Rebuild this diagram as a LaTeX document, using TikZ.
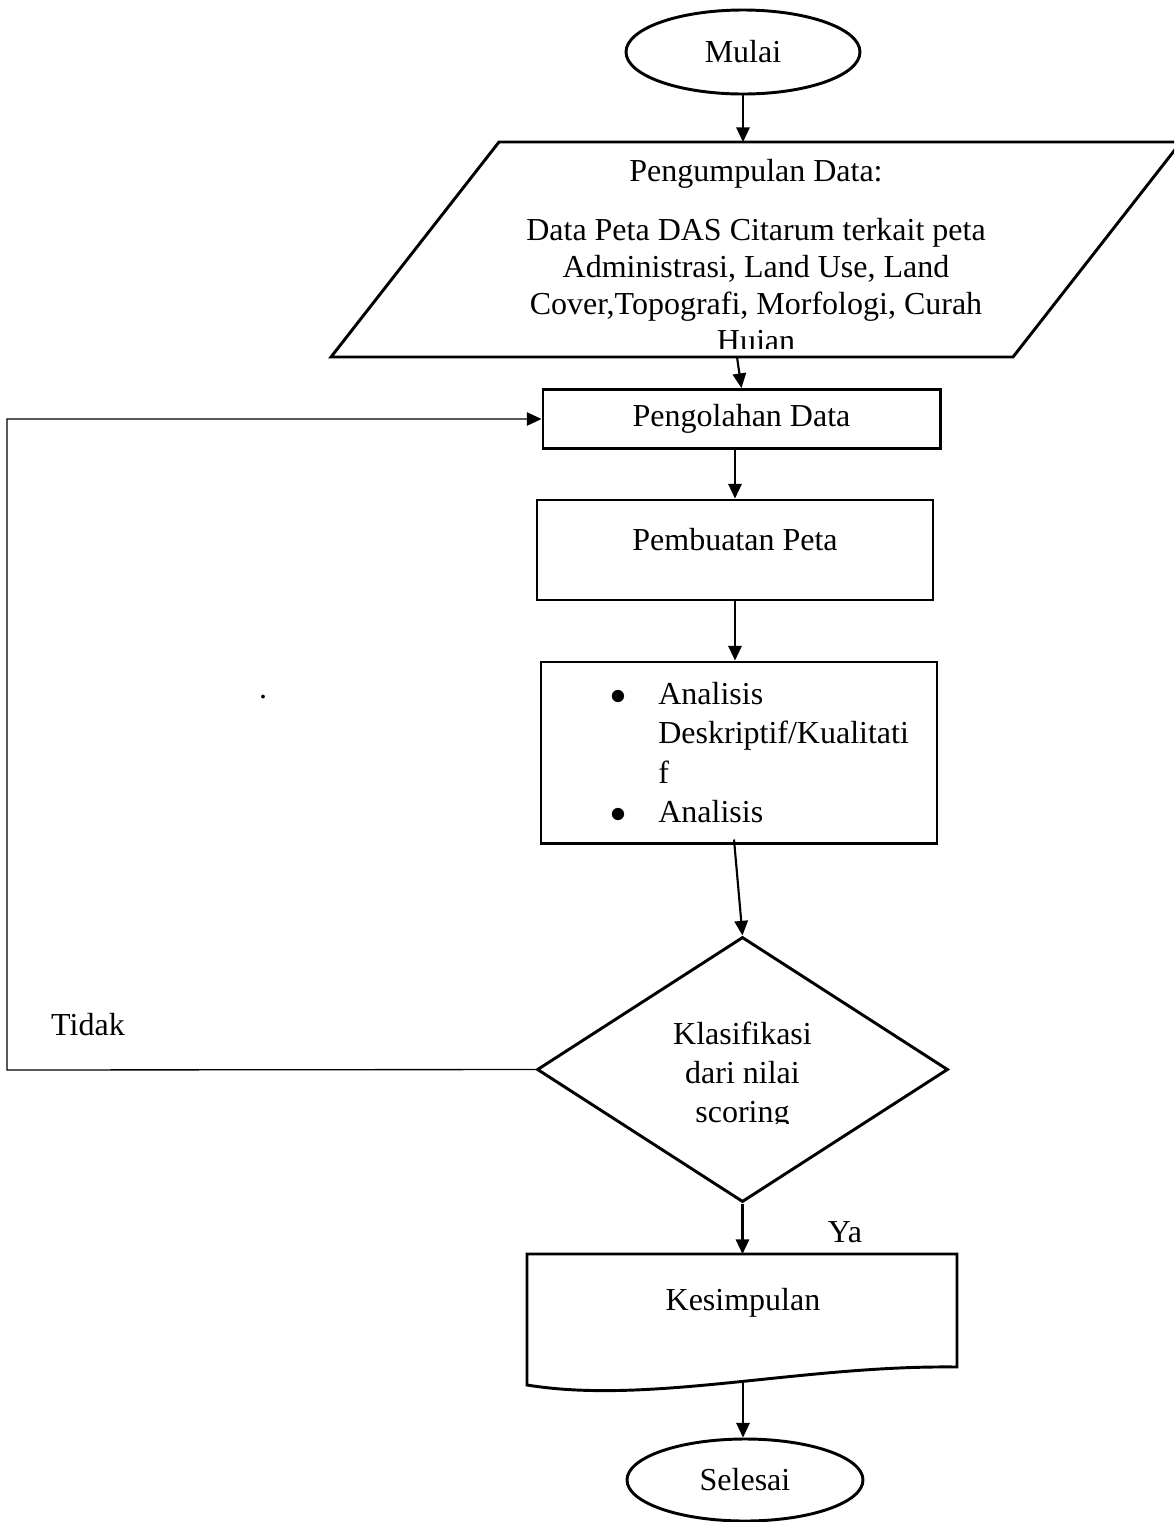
\documentclass[tikz,border=0pt]{standalone}
\usepackage{fontspec}
\setmainfont{Liberation Serif}
\usetikzlibrary{shapes.geometric,arrows.meta}

\begin{document}
\begin{tikzpicture}[x=0.375pt,y=-0.375pt,font=\fontsize{12}{14}\selectfont,
  garis/.style={line width=1.1pt},
  kotak/.style={draw,line width=1.1pt,inner sep=0pt},
  arr/.style={line width=0.8pt,-{Triangle[length=5.5pt,width=5pt]}},
  balik/.style={line width=0.5pt,-{Triangle[length=5.5pt,width=5pt]}}]
\clip (0,0) rectangle (1174,1522);
\node[kotak,ellipse,minimum width=87.75pt,minimum height=31.5pt] (mulai) at (743,52) {Mulai};
% input data
\draw[garis] (331,357) -- (499,142) -- (1181,142) -- (1013,357) -- cycle;
\coordinate (dataT) at (743,142);
\coordinate (dataB) at (737,357);
\begin{scope}
\clip (331,142) rectangle (1181,348);
\node[align=center,font=\fontsize{12}{13.9}\selectfont] (data) at (756,258.5) {Pengumpulan Data:\\[8.2pt]Data Peta DAS Citarum terkait peta\\Administrasi, Land Use, Land\\Cover,Topografi, Morfologi, Curah\\Hujan};
\end{scope}
\node[kotak,minimum width=148.9pt,minimum height=22.1pt] (olah) at (741.5,419) {Pengolahan Data};
\node[kotak,minimum width=148.5pt,text height=18.75pt,text depth=18.75pt] (peta) at (735,550) {Pembuatan Peta};
\node[kotak,minimum width=148.5pt,text width=148.5pt,minimum height=67.9pt,align=left,font=\fontsize{12}{14.8}\selectfont] (anal) at (739,752.5) {\hspace*{26pt}\makebox[18pt][l]{$\bullet$}Analisis\\\hspace*{44pt}Deskriptif/Kualitati\\\hspace*{44pt}f\\\hspace*{26pt}\makebox[18pt][l]{$\bullet$}Analisis};
% keputusan
\node[kotak,diamond,minimum width=154.1pt,minimum height=99.4pt] (klas) at (742.5,1069.5) {};
\begin{scope}
\clip (537,937) rectangle (948,1123);
\node[align=center,font=\fontsize{12}{14.6}\selectfont] (klasteks) at (742.5,1075.5) {Klasifikasi\\dari nilai\\scoring};
\end{scope}
% dokumen
\draw[garis] (527,1254) -- (957,1254) -- (957,1367) .. controls (800,1365) and (650,1405) .. (527,1385) -- cycle;
\coordinate (kesT) at (742.5,1254);
\coordinate (kesB) at (743,1382);
\node (kes) at (743,1302.5) {Kesimpulan};
\node[kotak,ellipse,minimum width=88.5pt,minimum height=30.75pt] (selesai) at (745,1480) {Selesai};
\node (tidak) at (88,1025) {Tidak};
\node (ya) at (845,1232) {Ya};
\node (titik) at (263,697) {.};
\coordinate (belok) at (7,1070);
% panah
\draw[arr] (mulai.south) -- (dataT);
\draw[arr] (dataB) -- (olah.north);
\draw[arr] (olah.south -| peta.north) -- (peta.north);
\draw[arr] (peta.south) -- (peta.south |- anal.north);
\draw[arr] ([shift={(-5,-5)}]anal.south) -- (klas.north);
\draw[arr] (klas.south) -- (kesT);
\draw[arr] (kesB) -- (kesB |- selesai.north);
\draw[balik] (klas.west) -- (belok) |- (olah.west);
\end{tikzpicture}
\end{document}
